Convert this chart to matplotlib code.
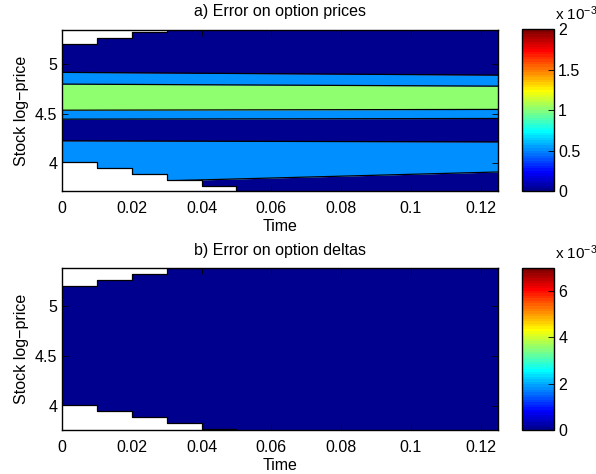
import numpy as np
import matplotlib
matplotlib.use('Agg')
import matplotlib.pyplot as plt
from matplotlib.colors import Normalize, ListedColormap
from matplotlib.cm import ScalarMappable

plt.rcParams['font.family'] = ['Liberation Sans', 'DejaVu Sans']
plt.rcParams['font.size'] = 11.5
plt.rcParams['mathtext.default'] = 'regular'

# band boundaries (log-price) of the price error contours, at t=0 and t=0.125
time_nodes = [0.0, 0.125]
price_edges_t0 = [3.79, 4.224, 4.444, 4.535, 4.800, 4.919]
price_edges_t1 = [3.908, 4.213, 4.451, 4.543, 4.779, 4.891]
# lower contour level of each band, bottom to top
price_band_levels = [0.0, 0.5e-3, 0.0, 0.5e-3, 1.0e-3, 0.5e-3, 0.0]
price_levels = [0.0, 0.5e-3, 1.0e-3, 1.5e-3, 2.0e-3]

delta_band_levels = [0.0]
delta_levels = [0.0, 1e-3, 2e-3, 3e-3, 4e-3, 5e-3, 6e-3, 7e-3]

# computational domain (tree grows with time)
step_times = [0.0, 0.01, 0.02, 0.03, 0.04, 0.05, 0.06]
lower_bound = [4.01, 3.95, 3.89, 3.83, 3.77, 3.71, 3.71]
upper_times = [0.0, 0.01, 0.02, 0.03, 0.04]
upper_bound = [5.21, 5.27, 5.33, 5.39, 5.39]


def matlab_jet(m=64):
    # same construction as MATLAB's jet(m)
    n = int(np.ceil(m / 4))
    u = np.concatenate([np.arange(1, n + 1) / n, np.ones(n - 1), np.arange(n, 0, -1) / n])
    g = int(np.ceil(n / 2)) - (m % 4 == 1) + np.arange(1, len(u) + 1)
    r = g + n
    b = g - n
    J = np.zeros((m, 3))
    for idx, col in ((r, 0), (g, 1), (b, 2)):
        ok = (idx >= 1) & (idx <= m)
        J[idx[ok] - 1, col] = u[ok]
    return ListedColormap(J)


cmap = matlab_jet(64)

fig = plt.figure(figsize=(5.96, 4.74), dpi=100)
W, H = 596.0, 474.0
ax1 = fig.add_axes([62 / W, 1 - 191 / H, 436 / W, 161 / H])
ax2 = fig.add_axes([62 / W, 1 - 430 / H, 436 / W, 162 / H])
cax1 = fig.add_axes([522 / W, 1 - 191 / H, 32 / W, 162 / H])
cax2 = fig.add_axes([522 / W, 1 - 430 / H, 32 / W, 162 / H])


def draw_bands(ax, edges0, edges1, band_levels, vmax):
    norm = Normalize(0, vmax)
    lo0 = [3.5] + list(edges0)
    hi0 = list(edges0) + [5.6]
    lo1 = [3.5] + list(edges1)
    hi1 = list(edges1) + [5.6]
    for k, lev in enumerate(band_levels):
        ax.fill_between(time_nodes, [lo0[k], lo1[k]], [hi0[k], hi1[k]],
                        color=cmap(norm(lev)), lw=0)
    for e0, e1 in zip(edges0, edges1):
        ax.plot(time_nodes, [e0, e1], color='k', lw=0.9)


def draw_domain(ax, ylim):
    ax.fill_between(step_times, ylim[0] - 1, lower_bound, step='post',
                    color='white', lw=0, zorder=3)
    ax.step(step_times, lower_bound, where='post', color='k', lw=0.9, zorder=4)
    ax.fill_between(upper_times, upper_bound, ylim[1] + 1, step='post',
                    color='white', lw=0, zorder=3)
    ax.step(upper_times, upper_bound, where='post', color='k', lw=0.9, zorder=4)


def style(ax, ylim, title, tpad):
    ax.set_xlim(0, 0.125)
    ax.set_ylim(*ylim)
    ax.set_xticks([0, 0.02, 0.04, 0.06, 0.08, 0.1, 0.12])
    ax.set_xticklabels(['0', '0.02', '0.04', '0.06', '0.08', '0.1', '0.12'])
    ax.set_yticks([4, 4.5, 5])
    ax.set_yticklabels(['4', '4.5', '5'])
    ax.tick_params(direction='in', top=True, right=True, length=4, width=0.6)
    ax.tick_params(axis='x', pad=7)
    for s in ax.spines.values():
        s.set_linewidth(1.0)
        s.set_zorder(5)
    ax.set_xlabel('Time', labelpad=2)
    ax.set_ylabel('Stock log\u2212price', labelpad=4)
    ax.set_title(title, fontsize=11.5, pad=tpad)


def colorbar(cax, vmax, ticks, labels):
    sm = ScalarMappable(norm=Normalize(0, vmax), cmap=cmap)
    cb = fig.colorbar(sm, cax=cax)
    cb.set_ticks(ticks)
    cb.set_ticklabels(labels)
    cb.ax.tick_params(direction='in', length=4, width=0.6, pad=3)
    cb.outline.set_linewidth(1.0)
    cax.text(1.02, 1.055, r'x 10$^{-3}$', transform=cax.transAxes,
             ha='left', va='baseline', fontsize=11)


ylim1 = (3.715, 5.349)
draw_bands(ax1, price_edges_t0, price_edges_t1, price_band_levels, price_levels[-1])
draw_domain(ax1, ylim1)
style(ax1, ylim1, 'a) Error on option prices', 10)
colorbar(cax1, price_levels[-1], [0, 0.5e-3, 1e-3, 1.5e-3, 2e-3],
         ['0', '0.5', '1', '1.5', '2'])

ylim2 = (3.755, 5.388)
draw_bands(ax2, [], [], delta_band_levels, delta_levels[-1])
draw_domain(ax2, ylim2)
style(ax2, ylim2, 'b) Error on option deltas', 9)
colorbar(cax2, delta_levels[-1], [0, 2e-3, 4e-3, 6e-3], ['0', '2', '4', '6'])

fig.savefig('out.png', dpi=100)
